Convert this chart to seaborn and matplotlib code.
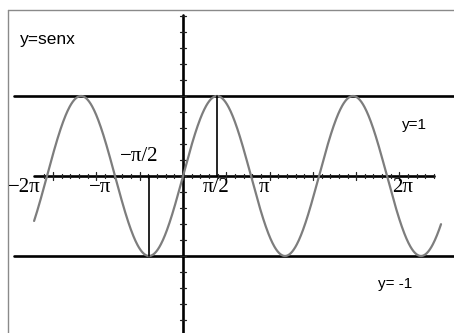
import numpy as np
import pandas as pd
import matplotlib.pyplot as plt
import seaborn as sns

sns.set_theme(style="white")

# curve range (radians) and guide lines
curve_start, curve_end = -6.88, 11.92
xaxis_start, xaxis_end = -6.88, 11.6
yaxis_top = 2.01
hline_start = -7.81
hline_levels = [1, -1]

# tick label texts and where they sit in the picture
tick_texts = ["\u22122\u03c0", "\u2212\u03c0", "\u03c0/2", "\u03c0", "2\u03c0"]
tick_text_x = [-7.35, -3.84, 1.53, 3.74, 10.16]
half_pi_text = "\u2212\u03c0/2"
half_pi_pos = (-2.03, 0.24)

# annotations
notes = ["y=senx", "y=1", "y= -1"]
notes_x = [-7.52, 10.12, 9.0]
notes_y = [1.71, 0.64, -1.35]

x = np.linspace(curve_start, curve_end, 800)
df = pd.DataFrame({"x": x, "y": np.sin(x)})

fig = plt.figure(figsize=(4.54, 3.33), dpi=100)
ax = fig.add_axes([0, 0, 1, 1])
ax.set_xlim(-8.455, 12.52)
ax.set_ylim(-1.9625, 2.2)
ax.axis("off")

# picture frame (top and left edges)
ax.plot([-8.085, 12.6], [2.075, 2.075], color="#8a8a8a", lw=1)
ax.plot([-8.085, -8.085], [-2.1, 2.075], color="#8a8a8a", lw=1)

# y = 1 and y = -1
for lvl in hline_levels:
    ax.plot([hline_start, 12.6], [lvl, lvl], color="black", lw=1.9)

# axes
ax.plot([xaxis_start, xaxis_end], [0, 0], color="black", lw=1.9)
ax.plot([0, 0], [-2.1, yaxis_top], color="black", lw=1.9)

# x ticks: minor every 0.4, major every 2
for t in np.arange(-6.4, 11.61, 0.4):
    major = abs(t / 2 - round(t / 2)) < 1e-6
    h = 0.05 if major else 0.028
    ax.plot([t, t], [-h, h], color="#222222", lw=0.9)

# y ticks every 0.2
for t in np.arange(-1.8, 2.01, 0.2):
    ax.plot([-0.14, 0.14], [t, t], color="#222222", lw=0.9)

# the sine curve
sns.lineplot(data=df, x="x", y="y", ax=ax, color="#7d7d7d", lw=1.6)

# markers at pi/2 and -pi/2
ax.plot([np.pi / 2, np.pi / 2], [0, 1], color="black", lw=1.2)
ax.plot([-np.pi / 2, -np.pi / 2], [0, -1], color="black", lw=1.2)

for txt, tx in zip(tick_texts, tick_text_x):
    ax.text(tx, -0.15, txt, ha="center", va="center", fontsize=15,
            family="Liberation Serif", color="black")
ax.text(half_pi_pos[0], half_pi_pos[1], half_pi_text, ha="center", va="center",
        fontsize=15, family="Liberation Serif", color="black")

for txt, nx, ny, fs in zip(notes, notes_x, notes_y, [12.5, 11, 11]):
    ax.text(nx, ny, txt, ha="left", va="center", fontsize=fs,
            family="Liberation Sans", color="black")

plt.savefig("out.png", dpi=100)
plt.close()
